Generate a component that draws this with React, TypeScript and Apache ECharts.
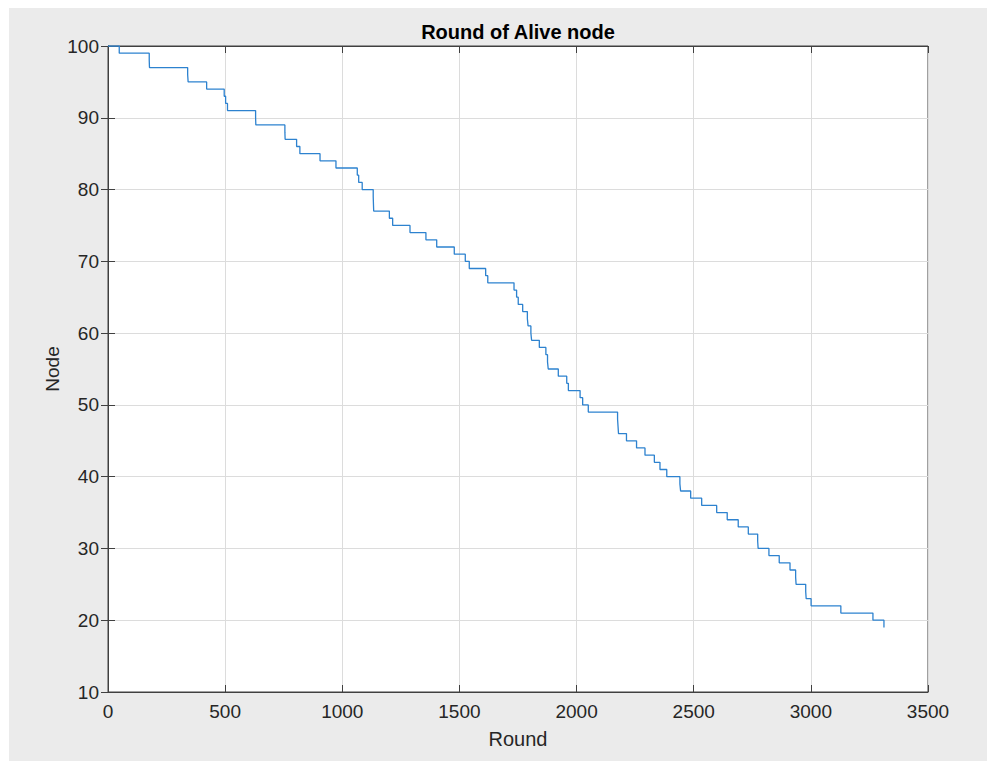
import React, { useEffect, useRef } from "react";
import * as echarts from "echarts";

// Round at which the alive-node count changes, and the new count
const rounds = [0, 48, 176, 177, 340, 342, 421, 496, 502, 510, 630, 631, 755, 756, 805, 819, 905, 973, 1064, 1070,
  1085, 1132, 1133, 1134, 1201, 1215, 1289, 1357, 1403, 1478, 1525, 1542, 1612, 1621, 1733, 1744, 1751, 1770, 1790, 1793,
  1805, 1808, 1841, 1869, 1876, 1879, 1922, 1958, 1965, 2015, 2026, 2050, 2175, 2177, 2179, 2213, 2256, 2292, 2332, 2356,
  2385, 2441, 2444, 2487, 2534, 2598, 2643, 2690, 2733, 2773, 2775, 2821, 2865, 2911, 2935, 2937, 2978, 2980, 3001, 3128,
  3265, 3312];
const alive = [100, 99, 98, 97, 96, 95, 94, 93, 92, 91, 90, 89, 88, 87, 86, 85, 84, 83, 82, 81,
  80, 79, 78, 77, 76, 75, 74, 73, 72, 71, 70, 69, 68, 67, 66, 65, 64, 63, 62, 61,
  60, 59, 58, 57, 56, 55, 54, 53, 52, 51, 50, 49, 48, 47, 46, 45, 44, 43, 42, 41,
  40, 39, 38, 37, 36, 35, 34, 33, 32, 31, 30, 29, 28, 27, 26, 25, 24, 23, 22, 21,
  20, 19];

const xMin = 0, xMax = 3500, xStep = 500;
const yMin = 10, yMax = 100, yStep = 10;

const titleText = "Round of Alive node";
const xName = "Round";
const yName = "Node";

const FONT = "'Liberation Sans', Arial, Helvetica, sans-serif";
const AXIS = "#404040";

export default function App() {
  const ref = useRef<HTMLDivElement>(null);
  useEffect(() => {
    if (!ref.current) return;
    const chart = echarts.init(ref.current, null, { renderer: "svg" });
    const data = rounds.map((r, i) => [r, alive[i]]);
    const tickCommon = { show: true, inside: true, length: 7, lineStyle: { color: AXIS, width: 1 } };
    chart.setOption({
      animation: false,
      backgroundColor: "#ebebeb",
      graphic: [
        {
          type: "text",
          x: 509,
          y: 24,
          style: {
            text: titleText,
            fontFamily: FONT,
            fontSize: 20,
            fontWeight: "bold",
            fill: "#000",
            align: "center",
            verticalAlign: "middle",
          },
        },
      ],
      grid: {
        left: 99, top: 38, right: 59, bottom: 69,
        show: true, backgroundColor: "#ffffff", borderColor: AXIS, borderWidth: 1,
      },
      xAxis: [
        {
          type: "value", min: xMin, max: xMax, interval: xStep, position: "bottom",
          name: xName, nameLocation: "middle", nameGap: 37, nameMoveOverlap: false,
          nameTextStyle: { fontFamily: FONT, fontSize: 20, color: "#262626" },
          axisLine: { show: true, lineStyle: { color: AXIS, width: 1 } },
          axisTick: tickCommon,
          axisLabel: { fontFamily: FONT, fontSize: 19, color: "#262626", margin: 10, formatter: (v: number) => String(v) },
          splitLine: { show: true, lineStyle: { color: "#dcdcdc", width: 1 } },
        },
        {
          type: "value", min: xMin, max: xMax, interval: xStep, position: "top",
          axisLine: { show: true, lineStyle: { color: AXIS, width: 1 } },
          axisTick: tickCommon, axisLabel: { show: false }, splitLine: { show: false },
        },
      ],
      yAxis: [
        {
          type: "value", min: yMin, max: yMax, interval: yStep, position: "left",
          name: yName, nameLocation: "middle", nameGap: 46, nameMoveOverlap: false,
          nameTextStyle: { fontFamily: FONT, fontSize: 19, color: "#262626" },
          axisLine: { show: true, lineStyle: { color: AXIS, width: 1 } },
          axisTick: tickCommon,
          axisLabel: { fontFamily: FONT, fontSize: 19, color: "#262626", margin: 9, formatter: (v: number) => String(v) },
          splitLine: { show: true, lineStyle: { color: "#dcdcdc", width: 1 } },
        },
        {
          type: "value", min: yMin, max: yMax, interval: yStep, position: "right",
          axisLine: { show: true, lineStyle: { color: AXIS, width: 1 } },
          axisTick: tickCommon, axisLabel: { show: false }, splitLine: { show: false },
        },
      ],
      series: [
        {
          type: "line",
          step: "end",
          data,
          xAxisIndex: 0,
          yAxisIndex: 0,
          showSymbol: false,
          lineStyle: { color: "#2d82cf", width: 1.3 },
        },
      ],
    });
    return () => chart.dispose();
  }, []);
  return (
    <div
      ref={ref}
      style={{ position: "fixed", left: 9, top: 8, width: 978, height: 753 }}
    />
  );
}
